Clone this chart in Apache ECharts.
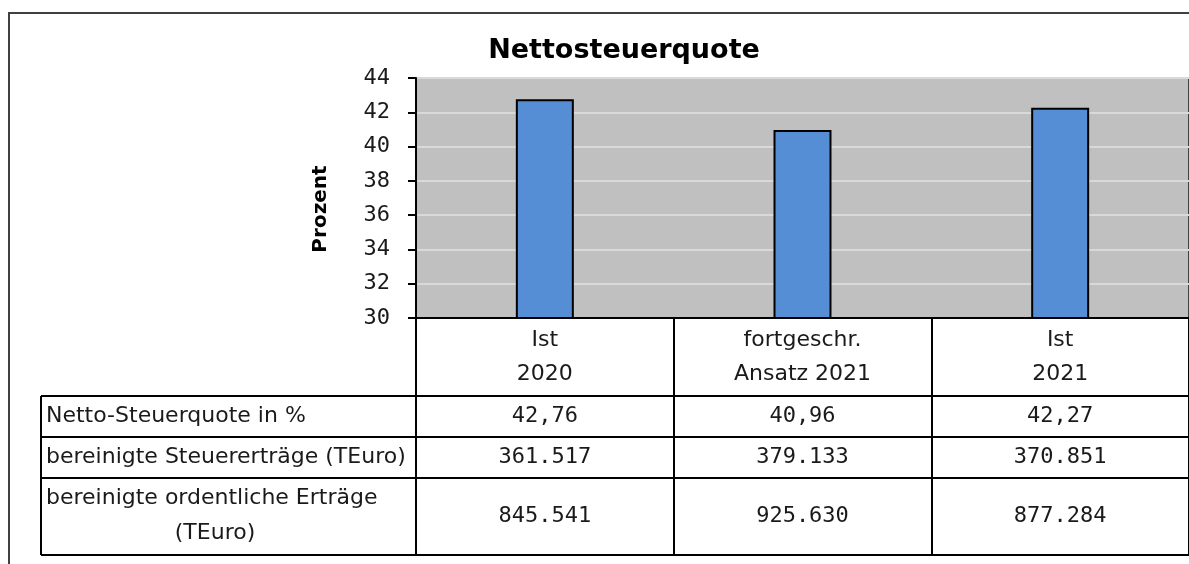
<!DOCTYPE html>
<html>
<head>
<meta charset="utf-8">
<script src="https://cdn.jsdelivr.net/npm/echarts@6/dist/echarts.min.js"></script>
<style>
html,body{margin:0;padding:0;background:#fff;}
#chart{width:1189px;height:564px;}
</style>
</head>
<body>
<div id="chart"></div>
<script>
// ---- data ----
const title = 'Nettosteuerquote';
const yAxisName = 'Prozent';
const categories = ['Ist\n2020', 'fortgeschr.\nAnsatz 2021', 'Ist\n2021'];
const quoteValues = [42.76, 40.96, 42.27];
const yMin = 30, yMax = 44, yStep = 2;
const rowLabels = ['Netto-Steuerquote in %', 'bereinigte Steuererträge (TEuro)', 'bereinigte ordentliche Erträge\n(TEuro)'];
const rowQuote = ['42,76', '40,96', '42,27'];
const rowSteuer = ['361.517', '379.133', '370.851'];
const rowErtraege = ['845.541', '925.630', '877.284'];
const tableRows = [rowQuote, rowSteuer, rowErtraege];

// ---- layout ----
const TXT = 'DejaVu Sans';
const NUM = 'DejaVu Sans Mono';
const gridTop = 78, gridBottomY = 318, gridLeft = 416;
const rowLines = [396, 437, 478, 555];
const tableLeft = 41;

const chart = echarts.init(document.getElementById('chart'), null, {renderer: 'canvas'});

chart.setOption({
  animation: false,
  backgroundColor: '#ffffff',
  grid: {
    left: gridLeft, top: gridTop, right: -2, bottom: 564 - gridBottomY,
    show: true, backgroundColor: '#c0c0c0', borderColor: '#404040', borderWidth: 2
  },
  xAxis: {
    type: 'category',
    data: categories,
    axisLine: {show: true, lineStyle: {color: '#000', width: 2}},
    axisTick: {show: true, inside: false, length: rowLines[3] - gridBottomY, lineStyle: {color: '#000', width: 2}},
    axisLabel: {
      fontFamily: TXT, fontSize: 22, color: '#1a1a1a', lineHeight: 34, margin: 5, interval: 0
    },
    splitLine: {show: false}
  },
  yAxis: {
    type: 'value',
    min: yMin, max: yMax, interval: yStep,
    axisLine: {show: true, lineStyle: {color: '#000', width: 2}},
    axisTick: {show: true, length: 8, lineStyle: {color: '#000', width: 2}},
    axisLabel: {fontFamily: NUM, fontSize: 22, color: '#1a1a1a', margin: 26},
    splitLine: {show: true, lineStyle: {color: '#d9d9d9', width: 2}}
  },
  series: [{
    type: 'bar',
    data: quoteValues,
    barWidth: '22.5%',
    itemStyle: {color: '#558ed5', borderColor: '#000', borderWidth: 2}
  }]
});

// ---- table & decorations ----
const g = [];
// outer frame
g.push({type: 'polyline', silent: true, z: 100, shape: {points: [[9, 564], [9, 13], [1189, 13]]}, style: {stroke: '#404040', lineWidth: 2, fill: null}});
// title
g.push({type: 'text', z: 100, style: {text: title, x: 624, y: 51, textAlign: 'center', textVerticalAlign: 'middle', font: 'bold 27px "DejaVu Sans"', fill: '#000'}});
// y axis name
g.push({type: 'text', z: 100, x: 321, y: 209, rotation: Math.PI / 2, style: {text: yAxisName, x: 0, y: 0, textAlign: 'center', textVerticalAlign: 'middle', font: 'bold 20px "DejaVu Sans"', fill: '#000'}});
// horizontal table lines
rowLines.forEach(function (y) {
  g.push({type: 'line', z: 100, shape: {x1: tableLeft, y1: y, x2: 1189, y2: y}, style: {stroke: '#000', lineWidth: 2}});
});
// left table border
g.push({type: 'line', z: 100, shape: {x1: tableLeft, y1: rowLines[0], x2: tableLeft, y2: rowLines[3]}, style: {stroke: '#000', lineWidth: 2}});
// row labels
const rowCentersY = [];
for (let i = 0; i < 3; i++) rowCentersY.push((rowLines[i] + rowLines[i + 1]) / 2);
const LBL_FONT = '22px "DejaVu Sans"';
g.push({type: 'text', z: 100, style: {text: rowLabels[0], x: 46, y: rowCentersY[0], textAlign: 'left', textVerticalAlign: 'middle', font: LBL_FONT, fill: '#1a1a1a'}});
g.push({type: 'text', z: 100, style: {text: rowLabels[1], x: 46, y: rowCentersY[1], textAlign: 'left', textVerticalAlign: 'middle', font: LBL_FONT, fill: '#1a1a1a'}});
const lbl3 = rowLabels[2].split('\n');
g.push({type: 'text', z: 100, style: {text: lbl3[0], x: 46, y: 498, textAlign: 'left', textVerticalAlign: 'middle', font: LBL_FONT, fill: '#1a1a1a'}});
g.push({type: 'text', z: 100, style: {text: lbl3[1], x: 215, y: 533, textAlign: 'center', textVerticalAlign: 'middle', font: LBL_FONT, fill: '#1a1a1a'}});
// values
for (let c = 0; c < categories.length; c++) {
  const cx = chart.convertToPixel({xAxisIndex: 0}, c);
  for (let r = 0; r < tableRows.length; r++) {
    g.push({type: 'text', z: 100, style: {text: tableRows[r][c], x: cx, y: rowCentersY[r], textAlign: 'center', textVerticalAlign: 'middle', font: '22px "DejaVu Sans Mono"', fill: '#1a1a1a'}});
  }
}
chart.setOption({graphic: g});
</script>
</body>
</html>
